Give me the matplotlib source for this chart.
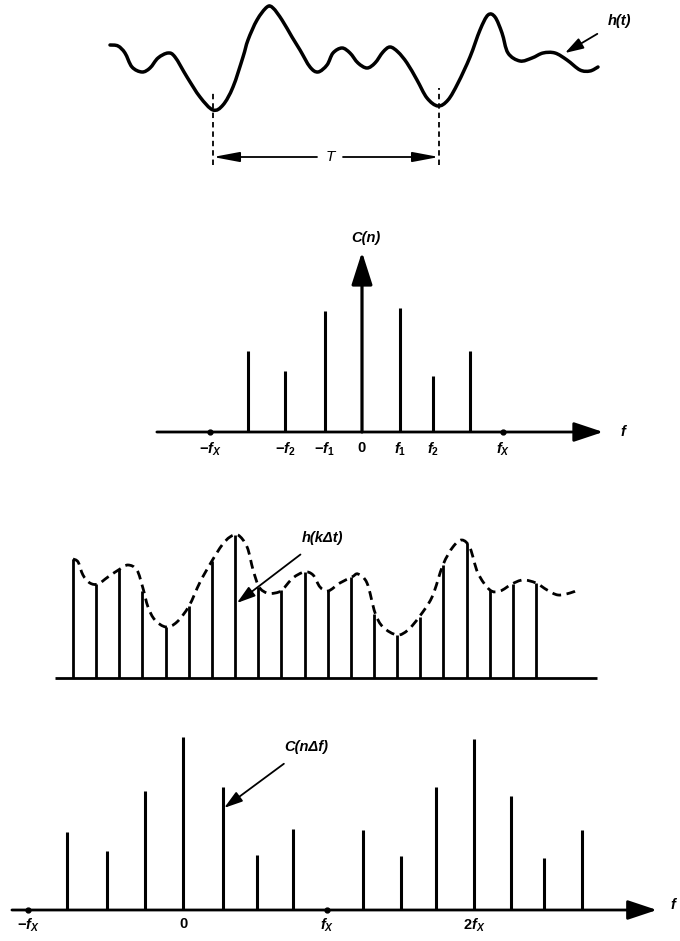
import matplotlib
matplotlib.use('Agg')
import matplotlib.pyplot as plt
from matplotlib.path import Path
from matplotlib.patches import PathPatch
import numpy as np

plt.rcParams['font.family'] = ['Liberation Sans', 'DejaVu Sans']
plt.rcParams['mathtext.fontset'] = 'custom'
plt.rcParams['mathtext.it'] = 'Liberation Sans:italic:bold'
plt.rcParams['mathtext.rm'] = 'Liberation Sans:bold'
plt.rcParams['mathtext.bf'] = 'Liberation Sans:bold'

# ---------------- data ----------------
# Panel 1: continuous waveform h(t) (arbitrary units)
h_t = [0, 8, 15, 22, 32, 40, 48, 58, 65, 77, 90, 103, 113, 123, 133, 138, 147, 157, 163, 172,
       182, 190, 200, 208, 217, 223, 232, 240, 248, 257, 265, 273, 280, 288, 297, 307, 317, 328, 338, 348,
       360, 370, 378, 385, 392, 398, 410, 422, 433, 445, 457, 470, 480, 488]
h_val = [65, 64, 57, 43, 38, 42, 52, 57, 53, 33, 13, 0, 5, 23, 53, 70, 90, 103, 102, 90,
         73, 60, 43, 38, 45, 57, 62, 57, 47, 42, 47, 58, 63, 58, 47, 30, 12, 4, 10, 27,
         53, 80, 95, 93, 77, 57, 49, 52, 57, 57, 50, 40, 39, 43]
period_marks = [103, 329]

# Panel 2: spectrum C(n)
cn_freq = [-3.04, -2.05, -0.99, 1.01, 1.89, 2.88]
cn_amp = [0.45, 0.34, 0.67, 0.69, 0.31, 0.45]
cn_zero_amp = 1.0
cn_fx = [-4.05, 3.76]
cn_tick_pos = [-4.05, -2.05, -0.99, 0.0, 1.01, 1.89, 3.76]
cn_tick_lab = [r'$-f_X$', r'$-f_2$', r'$-f_1$', '0', r'$f_1$', r'$f_2$', r'$f_X$']

# Panel 3: sampled waveform h(k dt)
k_idx = list(range(21))
hk_val = [119, 94, 109, 87, 51, 72, 117, 143, 91, 88, 106, 87, 101, 64, 43, 61, 113, 135, 88, 94, 95]
env_t = [0, 0.22, 0.43, 0.73, 1.08, 1.51, 2.03, 2.38, 2.76, 3.02, 3.24, 3.54, 4.02, 4.49, 5.01,
         5.49, 6.00, 6.44, 6.78, 7.13, 7.52, 7.78, 8.04, 8.38, 8.73, 9.03, 9.50, 10.0, 10.37, 10.67,
         11.02, 11.53, 12.05, 12.31, 12.70, 13.05, 13.39, 14.00, 14.47, 14.95, 15.51, 15.98, 16.41,
         16.80, 17.15, 17.49, 18.01, 18.45, 18.96, 19.44, 20.00, 20.48, 20.95, 21.47, 21.81]
env_val = [119, 116, 103, 95, 94, 101, 109, 113, 108, 90, 71, 58, 51, 56, 72,
           96, 117, 133, 141, 143, 131, 108, 91, 85, 85, 88, 100, 106, 103, 91,
           87, 95, 101, 104, 95, 65, 51, 43, 48, 61, 81, 113, 131,
           138, 130, 105, 88, 87, 94, 98, 95, 88, 83, 85, 88]

# Panel 4: periodic spectrum C(n df)
cdf_freq = [-3.19, -2.09, -1.04, 0, 1.10, 2.03, 3.02, 4.95, 5.99, 6.95, 8.0, 9.01, 9.92, 10.96]
cdf_amp = [0.45, 0.34, 0.69, 1.0, 0.71, 0.32, 0.47, 0.46, 0.31, 0.71, 0.99, 0.66, 0.30, 0.46]
cdf_fx = [-4.26, 3.96]
cdf_tick_pos = [-4.26, 0.0, 3.96, 8.0]
cdf_tick_lab = [r'$-f_X$', '0', r'$f_X$', r'$2f_X$']

# ---------------- helpers ----------------
W, H = 680, 941
fig = plt.figure(figsize=(W / 100, H / 100), dpi=100)


def panel(xlim, ylim):
    ax = fig.add_axes([0, 0, 1, 1])
    ax.set_xlim(*xlim)
    ax.set_ylim(*ylim)
    ax.axis('off')
    ax.patch.set_alpha(0)
    return ax


def smooth_path(x, y):
    x = np.asarray(x, float)
    y = np.asarray(y, float)
    n = len(x)
    verts = [(x[0], y[0])]
    codes = [Path.MOVETO]
    for i in range(n - 1):
        i0, i3 = max(i - 1, 0), min(i + 2, n - 1)
        c1 = (x[i] + (x[i + 1] - x[i0]) / 6, y[i] + (y[i + 1] - y[i0]) / 6)
        c2 = (x[i + 1] - (x[i3] - x[i]) / 6, y[i + 1] - (y[i3] - y[i]) / 6)
        verts += [c1, c2, (x[i + 1], y[i + 1])]
        codes += [Path.CURVE4] * 3
    return Path(verts, codes)


def arrow(ax, tip, tail, hl=0.9, hw=0.3, ms=20, lw=2.0):
    ax.annotate('', xy=tip, xytext=tail,
                arrowprops=dict(arrowstyle=f'-|>,head_length={hl},head_width={hw}',
                                mutation_scale=ms, lw=lw, color='black',
                                shrinkA=0, shrinkB=0))


LAB = dict(fontsize=10.5, fontstyle='italic', fontweight='bold', color='black')
UPR = dict(fontsize=10.5, fontstyle='normal', fontweight='bold', color='black')


def tick_text(ax, p, y, s):
    style = UPR if s == '0' else LAB
    ax.text(p, y, s, ha='center', va='top', **style)


# ---------------- Panel 1 ----------------
ax1 = panel((-110, W - 110), (110 - H, 110))
ax1.add_patch(PathPatch(smooth_path(h_t, h_val), fill=False, lw=2.5, color='black',
                        capstyle='round', joinstyle='round'))
ax1.vlines(period_marks, [-55, -55], [18, 22], colors='black', lw=1.3,
           linestyles=(0, (3, 2.2)))
arrow(ax1, (period_marks[0], -47), (207, -47), hl=1.6, hw=0.3, ms=10, lw=1.3)
arrow(ax1, (period_marks[1], -47), (233, -47), hl=1.6, hw=0.3, ms=10, lw=1.3)
ax1.text(220, -47, 'T', ha='center', va='center', fontsize=11, fontstyle='italic',
         fontweight='normal')
ax1.annotate('h(t)', xy=(455, 57), xytext=(509, 89), ha='center', va='center', **LAB,
             arrowprops=dict(arrowstyle='-|>,head_length=0.8,head_width=0.25',
                             mutation_scale=14, lw=1.3, color='black',
                             shrinkA=6, shrinkB=0))

# ---------------- Panel 2 ----------------
ax2 = panel((-362 / 37.5, (W - 362) / 37.5), ((432 - H) / 180, 432 / 180))
ax2.vlines(cn_freq, 0, cn_amp, colors='black', lw=2.2)
arrow(ax2, (0, cn_zero_amp), (0, 0), hl=1.0, hw=0.32, ms=20, lw=2.3)
arrow(ax2, (6.43, 0), (-5.47, 0), hl=0.9, hw=0.3, ms=20, lw=2.0)
ax2.plot(cn_fx, [0, 0], 'o', ms=3.5, color='black')
for p, s in zip(cn_tick_pos, cn_tick_lab):
    tick_text(ax2, p, -0.05, s)
ax2.text(0.1, 1.08, 'C(n)', ha='center', va='center', **LAB)
ax2.text(6.95, 0, 'f', ha='center', va='center', **LAB)

# ---------------- Panel 3 ----------------
ax3 = panel((-73 / 23.15, (W - 73) / 23.15), (678 - H, 678))
ax3.hlines(0, -0.78, 22.63, colors='black', lw=2.0)
ax3.vlines(k_idx, 0, hk_val, colors='black', lw=2.0)
ax3.add_patch(PathPatch(smooth_path(env_t, env_val), fill=False, lw=2.0, color='black',
                        linestyle=(0, (3.2, 2.0)), capstyle='butt'))
ax3.annotate('h(kΔt)', xy=(7.08, 75), xytext=(10.76, 140), ha='center', va='center', **LAB,
             arrowprops=dict(arrowstyle='-|>,head_length=0.8,head_width=0.25',
                             mutation_scale=14, lw=1.3, color='black',
                             shrinkA=8, shrinkB=0))

# ---------------- Panel 4 ----------------
ax4 = panel((-183 / 36.4, (W - 183) / 36.4), ((910 - H) / 173, 910 / 173))
ax4.vlines(cdf_freq, 0, cdf_amp, colors='black', lw=2.2)
arrow(ax4, (13.02, 0), (-4.70, 0), hl=0.9, hw=0.3, ms=20, lw=2.0)
ax4.plot(cdf_fx, [0, 0], 'o', ms=3.5, color='black')
for p, s in zip(cdf_tick_pos, cdf_tick_lab):
    tick_text(ax4, p, -0.04, s)
ax4.text(13.45, 0.03, 'f', ha='center', va='center', **LAB)
ax4.annotate('C(nΔf)', xy=(1.13, 0.59), xytext=(3.38, 0.94), ha='center', va='center', **LAB,
             arrowprops=dict(arrowstyle='-|>,head_length=0.8,head_width=0.25',
                             mutation_scale=14, lw=1.3, color='black',
                             shrinkA=8, shrinkB=0))

fig.savefig('out.png', dpi=100, facecolor='white')
